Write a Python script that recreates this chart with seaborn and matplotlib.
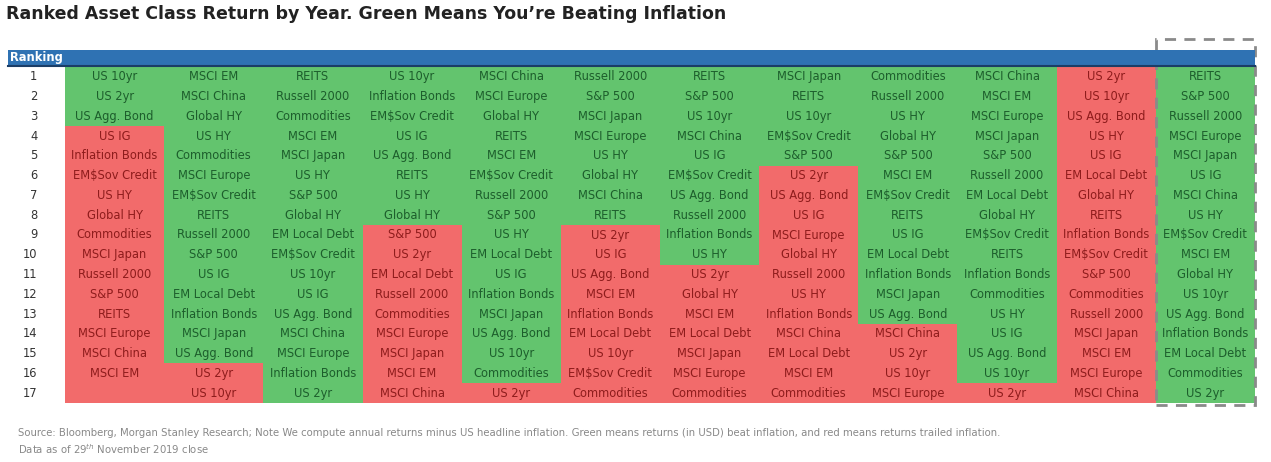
import numpy as np
import pandas as pd
import matplotlib.pyplot as plt
import seaborn as sns
from matplotlib.colors import ListedColormap
from matplotlib.patches import Rectangle

years = ['2008', '2009', '2010', '2011', '2012', '2013', '2014', '2015', '2016', '2017', '2018', '2019 YTD']
ranks = list(range(1, 18))

assets = {
    '2008': ['US 10yr', 'US 2yr', 'US Agg. Bond', 'US IG', 'Inflation Bonds', 'EM$Sov Credit', 'US HY', 'Global HY',
             'Commodities', 'MSCI Japan', 'Russell 2000', 'S&P 500', 'REITS', 'MSCI Europe', 'MSCI China', 'MSCI EM', ''],
    '2009': ['MSCI EM', 'MSCI China', 'Global HY', 'US HY', 'Commodities', 'MSCI Europe', 'EM$Sov Credit', 'REITS',
             'Russell 2000', 'S&P 500', 'US IG', 'EM Local Debt', 'Inflation Bonds', 'MSCI Japan', 'US Agg. Bond', 'US 2yr', 'US 10yr'],
    '2010': ['REITS', 'Russell 2000', 'Commodities', 'MSCI EM', 'MSCI Japan', 'US HY', 'S&P 500', 'Global HY',
             'EM Local Debt', 'EM$Sov Credit', 'US 10yr', 'US IG', 'US Agg. Bond', 'MSCI China', 'MSCI Europe', 'Inflation Bonds', 'US 2yr'],
    '2011': ['US 10yr', 'Inflation Bonds', 'EM$Sov Credit', 'US IG', 'US Agg. Bond', 'REITS', 'US HY', 'Global HY',
             'S&P 500', 'US 2yr', 'EM Local Debt', 'Russell 2000', 'Commodities', 'MSCI Europe', 'MSCI Japan', 'MSCI EM', 'MSCI China'],
    '2012': ['MSCI China', 'MSCI Europe', 'Global HY', 'REITS', 'MSCI EM', 'EM$Sov Credit', 'Russell 2000', 'S&P 500',
             'US HY', 'EM Local Debt', 'US IG', 'Inflation Bonds', 'MSCI Japan', 'US Agg. Bond', 'US 10yr', 'Commodities', 'US 2yr'],
    '2013': ['Russell 2000', 'S&P 500', 'MSCI Japan', 'MSCI Europe', 'US HY', 'Global HY', 'MSCI China', 'REITS',
             'US 2yr', 'US IG', 'US Agg. Bond', 'MSCI EM', 'Inflation Bonds', 'EM Local Debt', 'US 10yr', 'EM$Sov Credit', 'Commodities'],
    '2014': ['REITS', 'S&P 500', 'US 10yr', 'MSCI China', 'US IG', 'EM$Sov Credit', 'US Agg. Bond', 'Russell 2000',
             'Inflation Bonds', 'US HY', 'US 2yr', 'Global HY', 'MSCI EM', 'EM Local Debt', 'MSCI Japan', 'MSCI Europe', 'Commodities'],
    '2015': ['MSCI Japan', 'REITS', 'US 10yr', 'EM$Sov Credit', 'S&P 500', 'US 2yr', 'US Agg. Bond', 'US IG',
             'MSCI Europe', 'Global HY', 'Russell 2000', 'US HY', 'Inflation Bonds', 'MSCI China', 'EM Local Debt', 'MSCI EM', 'Commodities'],
    '2016': ['Commodities', 'Russell 2000', 'US HY', 'Global HY', 'S&P 500', 'MSCI EM', 'EM$Sov Credit', 'REITS',
             'US IG', 'EM Local Debt', 'Inflation Bonds', 'MSCI Japan', 'US Agg. Bond', 'MSCI China', 'US 2yr', 'US 10yr', 'MSCI Europe'],
    '2017': ['MSCI China', 'MSCI EM', 'MSCI Europe', 'MSCI Japan', 'S&P 500', 'Russell 2000', 'EM Local Debt', 'Global HY',
             'EM$Sov Credit', 'REITS', 'Inflation Bonds', 'Commodities', 'US HY', 'US IG', 'US Agg. Bond', 'US 10yr', 'US 2yr'],
    '2018': ['US 2yr', 'US 10yr', 'US Agg. Bond', 'US HY', 'US IG', 'EM Local Debt', 'Global HY', 'REITS',
             'Inflation Bonds', 'EM$Sov Credit', 'S&P 500', 'Commodities', 'Russell 2000', 'MSCI Japan', 'MSCI EM', 'MSCI Europe', 'MSCI China'],
    '2019 YTD': ['REITS', 'S&P 500', 'Russell 2000', 'MSCI Europe', 'MSCI Japan', 'US IG', 'MSCI China', 'US HY',
                 'EM$Sov Credit', 'MSCI EM', 'Global HY', 'US 10yr', 'US Agg. Bond', 'Inflation Bonds', 'EM Local Debt', 'Commodities', 'US 2yr'],
}
# number of assets beating inflation (green, from the top) per year
n_beating = [3, 15, 17, 8, 16, 8, 10, 5, 13, 16, 0, 17]

green, red = '#63c46e', '#f26b6b'
green_txt, red_txt = '#1d5e2c', '#8e1c1c'
blue = '#2f72b3'

beat = pd.DataFrame({y: [1 if r <= n else 0 for r in ranks] for y, n in zip(years, n_beating)}, index=ranks)
labels = pd.DataFrame(assets, index=ranks)

fig = plt.figure(figsize=(12.71, 4.62), dpi=100)
W, H = 1271, 462
ax = fig.add_axes([65 / W, 1 - 403 / H, (1255 - 65) / W, (403 - 67) / H])
sns.heatmap(beat, cmap=ListedColormap([red, green]), cbar=False, ax=ax,
            xticklabels=False, yticklabels=ranks, linewidths=0)
for j, y in enumerate(years):
    for i, r in enumerate(ranks):
        c = green_txt if beat.loc[r, y] else red_txt
        ax.text(j + 0.5, i + 0.5, labels.loc[r, y], ha='center', va='center', fontsize=8.3, color=c)

ax.tick_params(axis='y', length=0, labelsize=8.3, labelcolor='#333333', rotation=0, pad=20)

# header bar
fig.patches.append(Rectangle((8 / W, 1 - 65 / H), (1255 - 8) / W, 15 / H, transform=fig.transFigure,
                             facecolor=blue, edgecolor='none'))
fig.lines.append(plt.Line2D([8 / W, 1255 / W], [1 - 66 / H] * 2, transform=fig.transFigure, color='#1b3d66', lw=1.5))
fig.text(36 / W, 1 - 57.5 / H, 'Ranking', ha='center', va='center', color='white', fontsize=8.3, fontweight='bold')
for j, y in enumerate(years):
    ax.text(j + 0.5, -0.72, y, ha='center', va='center', color='white', fontsize=8.3, fontweight='bold', clip_on=False)

# dashed box around 2019 YTD
ax.add_patch(Rectangle((11, 17.1), 1, -18.5, fill=False, ls=(0, (4, 3)), lw=2, edgecolor='#8a8a8a', clip_on=False))

fig.text(6 / W, 1 - 14 / H, 'Ranked Asset Class Return by Year. Green Means You\u2019re Beating Inflation',
         fontsize=12.5, fontweight='bold', va='center', color='#222222')
fig.text(18 / W, 1 - 433 / H, 'Source: Bloomberg, Morgan Stanley Research; Note We compute annual returns minus US headline inflation. '
         'Green means returns (in USD) beat inflation, and red means returns trailed inflation.',
         fontsize=7.3, color='#888888', va='center')
fig.text(18 / W, 1 - 449 / H, 'Data as of 29$^{th}$ November 2019 close', fontsize=7.3, color='#888888', va='center')

fig.savefig('out.png', dpi=100, facecolor='white')
